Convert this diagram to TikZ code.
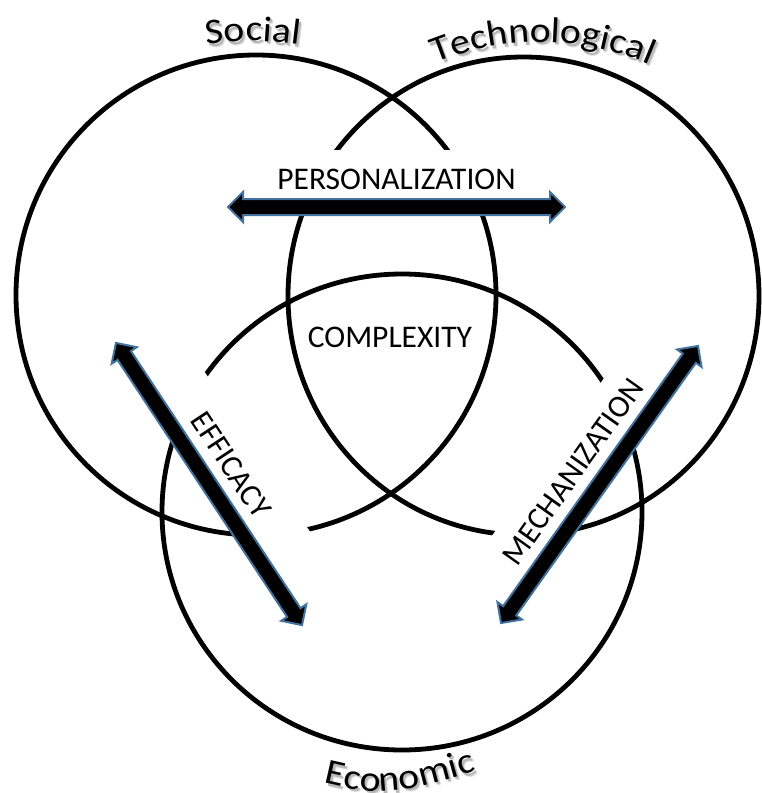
\documentclass[tikz,border=0pt]{standalone}
\usepackage{fontspec}
\setmainfont{Carlito}
\newfontfamily\wafont[FakeStretch=1.1]{Carlito}
\usetikzlibrary{shapes.arrows,decorations.text}
\definecolor{arrowblue}{RGB}{65,113,156}
\begin{document}
\begin{tikzpicture}[x=1pt,y=-1pt,
  ring/.style={draw=black, line width=4.8pt},
  mask/.style={fill=white, inner sep=0pt, font=\fontsize{31.5}{36}\selectfont,
    minimum width=210pt, minimum height=58pt},
  plainlabel/.style={font=\fontsize{31.5}{36}\selectfont, inner sep=0pt},
  darrow/.style={double arrow, fill=black, draw=arrowblue, line width=2pt,
    inner xsep=0pt, inner ysep=7pt, double arrow head extend=7pt, sloped},
  wordart/.style={decorate, decoration={text along path, text align={align=center},
    text={|\wafont\fontsize{36}{40}\selectfont|#1}}}
]
\useasboundingbox (0,0) rectangle (762,793);
\fill[white] (0,0) rectangle (762,793);

% circles
\draw[ring] (256,295) ellipse [x radius=240pt, y radius=240pt];
\draw[ring] (523.5,296) ellipse [x radius=235.5pt, y radius=239pt];
\draw[ring] (402,512) ellipse [x radius=240pt, y radius=238pt];

% labels with white boxes
\node[mask] (pers) at (396.5,179) {PERSONALIZATION};
\node[mask, rotate=-56.6] (effi) at (231.1,464.7) {EFFICACY};
\node[mask, rotate=54.6] (mech) at (573,471.8) {MECHANIZATION};
\node[plainlabel] (comp) at (390,337.5) {COMPLEXITY};

% arrows
\coordinate (p1) at (228,207);
\coordinate (p2) at (565,207);
\coordinate (e1) at (116,343);
\coordinate (e2) at (302,625);
\coordinate (m1) at (501,623);
\coordinate (m2) at (698,346);
\path (p1) -- (p2) node[darrow, midway, minimum height=337pt] (parrow) {};
\path (e1) -- (e2) node[darrow, midway, minimum height=338pt] (earrow) {};
\path (m1) -- (m2) node[darrow, midway, minimum height=340pt] (marrow) {};

% curved titles with shadow
\foreach \dx/\dy/\gv in {3/3.6/12, 2/2.5/28, 0/0/100} {
  \begin{scope}[shift={(\dx,\dy)}]
    \path[wordart={Social}, decoration={text color=black!\gv}]
      (190,47) .. controls (253,39) .. (316,47);
    \path[wordart={Technological}, decoration={text color=black!\gv}]
      (415,72) .. controls (495,32) and (590,32) .. (670,74);
    \path[wordart={Economic}, decoration={text color=black!\gv}]
      (300,777) .. controls (385,798) .. (500,764);
  \end{scope}
}
\end{tikzpicture}
\end{document}
